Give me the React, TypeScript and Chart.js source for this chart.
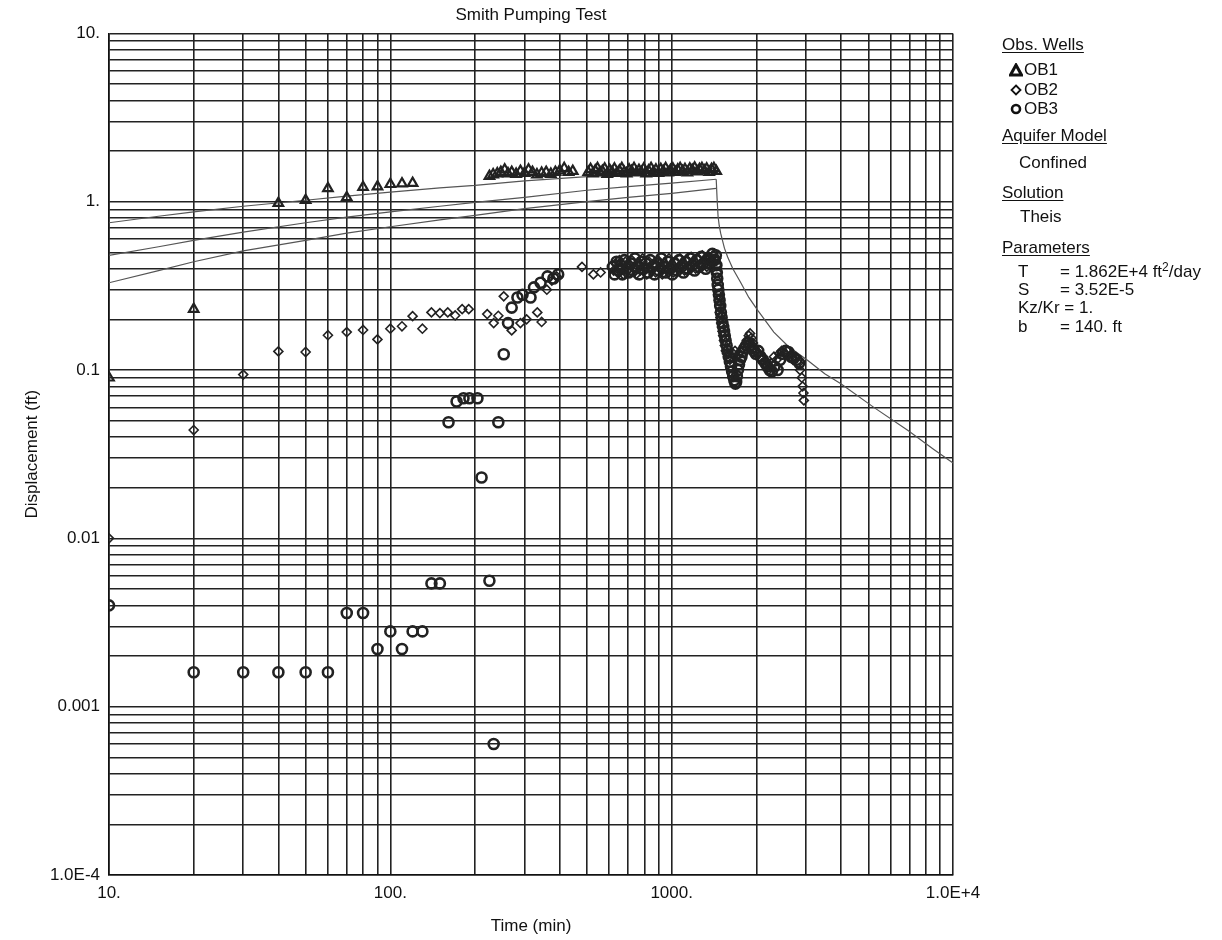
import React, { useEffect, useRef } from "react";
import { Chart, registerables } from "chart.js";

Chart.register(...registerables);

// ---------- text ----------
const CHART_TITLE = "Smith Pumping Test";
const X_TITLE = "Time (min)";
const Y_TITLE = "Displacement (ft)";

// ---------- axes ----------
const xDecades = [10, 100, 1000, 10000];
const xDecadeLabels = ["10.", "100.", "1000.", "1.0E+4"];
const yDecades = [0.0001, 0.001, 0.01, 0.1, 1, 10];
const yDecadeLabels = ["1.0E-4", "0.001", "0.01", "0.1", "1.", "10."];
const gridMultipliers = [1, 2, 3, 4, 5, 6, 7, 8, 9];

// ---------- observation wells: [time (min), displacement (ft)] ----------
const ob1: [number, number][] = [
  [10, 0.09], [20, 0.23], [40, 0.98], [50, 1.02], [60, 1.2], [70, 1.06], [80, 1.22], [90, 1.23],
  [100, 1.27], [110, 1.28], [120, 1.29],
  [225, 1.42], [232, 1.45], [240, 1.47], [247, 1.5], [255, 1.55], [262, 1.47], [270, 1.5], [280, 1.46],
  [290, 1.52], [300, 1.48], [310, 1.55], [320, 1.5], [332, 1.45], [345, 1.48], [358, 1.5], [372, 1.46],
  [386, 1.5], [400, 1.53], [415, 1.58], [430, 1.5], [445, 1.52],
  [505, 1.5], [515, 1.56], [525, 1.47], [535, 1.53], [545, 1.58], [556, 1.49], [567, 1.52], [578, 1.57],
  [590, 1.46], [602, 1.54], [614, 1.5], [626, 1.57], [639, 1.48], [652, 1.53], [665, 1.58], [678, 1.5],
  [692, 1.47], [706, 1.55], [720, 1.52], [735, 1.58], [750, 1.49], [765, 1.54], [780, 1.5], [796, 1.57],
  [812, 1.47], [828, 1.53], [845, 1.58], [862, 1.5], [879, 1.55], [897, 1.48], [915, 1.56], [933, 1.52],
  [952, 1.58], [971, 1.49], [990, 1.54], [1010, 1.57], [1030, 1.5], [1051, 1.55], [1072, 1.58],
  [1093, 1.52], [1115, 1.56], [1137, 1.49], [1160, 1.57], [1183, 1.54], [1207, 1.59], [1231, 1.51],
  [1256, 1.56], [1281, 1.58], [1306, 1.53], [1332, 1.57], [1359, 1.5], [1386, 1.56], [1413, 1.58],
  [1440, 1.52],
];

const ob2: [number, number][] = [
  [10, 0.01], [20, 0.044], [30, 0.094], [40, 0.129], [50, 0.128], [60, 0.161], [70, 0.168], [80, 0.173],
  [90, 0.152], [100, 0.176], [110, 0.182], [120, 0.209], [130, 0.176], [140, 0.22], [150, 0.218],
  [160, 0.22], [170, 0.211], [180, 0.23], [190, 0.23],
  [221, 0.215], [233, 0.19], [242, 0.21], [253, 0.274], [270, 0.172], [290, 0.19], [305, 0.2],
  [333, 0.22], [345, 0.193], [360, 0.3], [375, 0.34], [390, 0.36],
  [480, 0.41], [527, 0.37], [559, 0.38],
  [622, 0.39], [632, 0.43], [642, 0.38], [652, 0.45], [663, 0.4], [674, 0.37], [685, 0.44], [697, 0.41],
  [709, 0.38], [721, 0.45], [734, 0.4], [747, 0.37], [760, 0.43], [774, 0.39], [788, 0.46], [802, 0.4],
  [816, 0.37], [831, 0.44], [846, 0.39], [861, 0.42], [877, 0.38], [893, 0.45], [909, 0.4], [926, 0.37],
  [943, 0.43], [960, 0.39], [978, 0.46], [996, 0.41], [1014, 0.38], [1033, 0.44], [1052, 0.4],
  [1071, 0.46], [1091, 0.42], [1111, 0.39], [1131, 0.45], [1152, 0.41], [1173, 0.47], [1195, 0.43],
  [1217, 0.4], [1239, 0.46], [1262, 0.42], [1285, 0.48], [1309, 0.44], [1333, 0.41], [1357, 0.47],
  [1382, 0.44], [1407, 0.48], [1430, 0.45], [1440, 0.46],
  [1445, 0.42], [1450, 0.38], [1455, 0.34], [1460, 0.31], [1466, 0.28], [1472, 0.26], [1478, 0.24],
  [1485, 0.22], [1492, 0.205], [1500, 0.19], [1508, 0.18], [1516, 0.17], [1525, 0.16], [1535, 0.15],
  [1545, 0.14], [1558, 0.13], [1572, 0.125], [1590, 0.12], [1610, 0.115], [1630, 0.12], [1655, 0.125],
  [1680, 0.13], [1705, 0.12], [1730, 0.125], [1760, 0.13], [1790, 0.135], [1820, 0.14], [1850, 0.15],
  [1880, 0.16], [1900, 0.165], [1920, 0.155], [1945, 0.145], [1970, 0.135], [2000, 0.13], [2030, 0.125],
  [2060, 0.12], [2090, 0.115], [2130, 0.11], [2170, 0.105], [2210, 0.1], [2260, 0.11], [2310, 0.12],
  [2360, 0.115], [2410, 0.125], [2460, 0.13], [2520, 0.125], [2580, 0.13], [2640, 0.12], [2700, 0.115],
  [2760, 0.12], [2820, 0.11], [2860, 0.1], [2900, 0.09], [2920, 0.08], [2940, 0.073], [2950, 0.066],
];

const ob3: [number, number][] = [
  [10, 0.004], [20, 0.0016], [30, 0.0016], [40, 0.0016], [50, 0.0016], [60, 0.0016], [70, 0.0036],
  [80, 0.0036], [90, 0.0022], [100, 0.0028], [110, 0.0022], [120, 0.0028], [130, 0.0028], [140, 0.0054],
  [150, 0.0054], [161, 0.049], [172, 0.065], [182, 0.068], [191, 0.068], [204, 0.068], [211, 0.023],
  [225, 0.0056], [233, 0.0006], [242, 0.049], [253, 0.124], [262, 0.19], [270, 0.235], [283, 0.27],
  [295, 0.28], [315, 0.27], [324, 0.31], [342, 0.33], [362, 0.36], [380, 0.35], [395, 0.37],
  [618, 0.41], [627, 0.37], [637, 0.44], [647, 0.39], [657, 0.42], [668, 0.37], [679, 0.45], [691, 0.4],
  [703, 0.38], [715, 0.43], [727, 0.39], [740, 0.46], [753, 0.41], [767, 0.37], [781, 0.44], [795, 0.4],
  [809, 0.43], [824, 0.38], [839, 0.45], [854, 0.41], [869, 0.37], [885, 0.43], [901, 0.39], [918, 0.46],
  [935, 0.41], [952, 0.38], [969, 0.44], [987, 0.4], [1005, 0.37], [1024, 0.43], [1043, 0.39],
  [1062, 0.45], [1081, 0.41], [1101, 0.38], [1121, 0.44], [1142, 0.4], [1163, 0.46], [1184, 0.42],
  [1206, 0.39], [1228, 0.45], [1251, 0.41], [1274, 0.47], [1297, 0.43], [1321, 0.4], [1345, 0.46],
  [1370, 0.43], [1395, 0.49], [1420, 0.45], [1436, 0.48],
  [1442, 0.42], [1447, 0.38], [1452, 0.35], [1458, 0.32], [1465, 0.3], [1472, 0.28], [1480, 0.26],
  [1488, 0.24], [1496, 0.22], [1505, 0.205], [1515, 0.19], [1525, 0.18], [1535, 0.17], [1545, 0.16],
  [1555, 0.15], [1568, 0.14], [1580, 0.13], [1595, 0.12], [1610, 0.112], [1625, 0.105], [1640, 0.098],
  [1655, 0.092], [1670, 0.087], [1685, 0.083], [1695, 0.085], [1705, 0.092], [1720, 0.1], [1735, 0.108],
  [1750, 0.115], [1770, 0.12], [1790, 0.128], [1815, 0.135], [1840, 0.14], [1870, 0.145], [1900, 0.14],
  [1930, 0.135], [1960, 0.13], [1990, 0.125], [2030, 0.13], [2070, 0.12], [2110, 0.115], [2150, 0.11],
  [2190, 0.105], [2230, 0.1], [2270, 0.098], [2320, 0.105], [2380, 0.1], [2430, 0.115], [2480, 0.125],
  [2540, 0.13], [2600, 0.128], [2660, 0.12], [2720, 0.118], [2780, 0.115], [2840, 0.11],
];

// ---------- Theis type curves ----------
const theisOB1: [number, number][] = [
  [10, 0.75], [15, 0.82], [20, 0.87], [30, 0.94], [50, 1.02], [70, 1.08], [100, 1.14], [150, 1.21],
  [200, 1.25], [300, 1.33], [500, 1.41], [700, 1.47], [1000, 1.52], [1440, 1.58],
];
const theisOB2: [number, number][] = [
  [10, 0.48], [15, 0.54], [20, 0.59], [30, 0.66], [50, 0.75], [70, 0.81], [100, 0.87], [150, 0.94],
  [200, 0.99], [300, 1.06], [500, 1.17], [700, 1.23], [1000, 1.29], [1440, 1.36],
];
const theisOB3: [number, number][] = [
  [10, 0.33], [15, 0.39], [20, 0.44], [30, 0.51], [50, 0.59], [70, 0.65], [100, 0.71], [150, 0.78],
  [200, 0.83], [300, 0.91], [500, 1.0], [700, 1.06], [1000, 1.12], [1440, 1.2],
];
const theisRecovery: [number, number][] = [
  [1440, 1.36], [1450, 1.05], [1462, 0.82], [1476, 0.72], [1493, 0.65], [1540, 0.53], [1581, 0.47],
  [1650, 0.4], [1761, 0.33], [1880, 0.27], [2023, 0.226], [2307, 0.168], [2600, 0.138], [3048, 0.114],
  [3500, 0.095], [3994, 0.083], [5231, 0.06], [6921, 0.0437], [8500, 0.034], [10000, 0.028],
];

// ---------- legend panel text ----------
const legendWells = ["OB1", "OB2", "OB3"];
const aquiferModel = "Confined";
const solutionName = "Theis";

// ---------- styles ----------
const FONT = "Arial, 'Liberation Sans', Helvetica, sans-serif";
const TEXT = "#111";
const GRID = "#222";
const MARK = "#222";
const CURVE = "#555";
const W = 1222;
const H = 940;

function decadeGrid(decades: number[]): number[] {
  const out: number[] = [];
  for (let i = 0; i < decades.length - 1; i++) {
    for (const m of gridMultipliers) out.push(parseFloat((m * decades[i]).toPrecision(4)));
  }
  out.push(decades[decades.length - 1]);
  return out;
}

function labelFor(v: number, decades: number[], labels: string[]): string {
  for (let i = 0; i < decades.length; i++) {
    if (Math.abs(Math.log10(v) - Math.log10(decades[i])) < 1e-6) return labels[i];
  }
  return "";
}

const toXY = (pts: [number, number][]) => pts.map(([x, y]) => ({ x, y }));

function Line(props: { x: number; cy: number; underline?: boolean; children: React.ReactNode }) {
  return (
    <div
      style={{
        position: "absolute",
        left: props.x,
        top: props.cy - 10,
        height: 20,
        lineHeight: "20px",
        fontFamily: FONT,
        fontSize: 17,
        color: TEXT,
        whiteSpace: "nowrap",
        textDecoration: props.underline ? "underline" : "none",
        textUnderlineOffset: "2px",
      }}
    >
      {props.children}
    </div>
  );
}

function Icon(props: { kind: number; cy: number }) {
  const common = { stroke: "#111", fill: "#fff" };
  return (
    <svg
      width={14}
      height={14}
      style={{ position: "absolute", left: 1009, top: props.cy - 7 }}
      viewBox="0 0 14 14"
    >
      {props.kind === 0 && <polygon points="7,2 12.5,12 1.5,12" strokeWidth={3} {...common} />}
      {props.kind === 1 && <polygon points="7,2.5 11.5,7 7,11.5 2.5,7" strokeWidth={1.8} {...common} />}
      {props.kind === 2 && <circle cx={7} cy={7} r={4} strokeWidth={2.6} {...common} />}
    </svg>
  );
}

export default function App() {
  const ref = useRef<HTMLCanvasElement | null>(null);

  useEffect(() => {
    if (!ref.current) return;
    const xGrid = decadeGrid(xDecades);
    const yGrid = decadeGrid(yDecades);
    const tickFont = { family: FONT, size: 17, weight: "normal" as const };

    const curve = (data: [number, number][]) => ({
      data: toXY(data),
      showLine: true,
      borderColor: CURVE,
      borderWidth: 1.2,
      pointRadius: 0,
      pointHoverRadius: 0,
      tension: 0,
      order: 2,
    });

    const chart = new Chart(ref.current, {
      type: "scatter",
      data: {
        datasets: [
          { label: "Theis OB1", ...curve(theisOB1) },
          { label: "Theis OB2", ...curve(theisOB2) },
          { label: "Theis OB3", ...curve(theisOB3) },
          { label: "Theis recovery", ...curve(theisRecovery) },
          {
            label: "OB1",
            data: toXY(ob1),
            pointStyle: "triangle",
            pointRadius: 5.5,
            pointBorderWidth: 2.2,
            pointBorderColor: MARK,
            pointBackgroundColor: "rgba(255,255,255,0)",
            order: 1,
          },
          {
            label: "OB2",
            data: toXY(ob2),
            pointStyle: "rectRot",
            pointRadius: 4.5,
            pointBorderWidth: 1.6,
            pointBorderColor: MARK,
            pointBackgroundColor: "rgba(255,255,255,0)",
            order: 1,
          },
          {
            label: "OB3",
            data: toXY(ob3),
            pointStyle: "circle",
            pointRadius: 5,
            pointBorderWidth: 2.6,
            pointBorderColor: MARK,
            pointBackgroundColor: "rgba(255,255,255,0)",
            order: 1,
          },
        ] as any,
      },
      options: {
        responsive: false,
        animation: false,
        events: [],
        layout: { padding: { left: 0, right: W - 953, top: 0, bottom: 0 } },
        plugins: {
          legend: { display: false },
          tooltip: { enabled: false },
          title: {
            display: true,
            text: CHART_TITLE,
            fullSize: false,
            color: TEXT,
            font: { family: FONT, size: 17, weight: "normal" },
            padding: { top: 5, bottom: 8 },
          },
        },
        scales: {
          x: {
            type: "logarithmic",
            position: "bottom",
            min: 10,
            max: 10000,
            afterBuildTicks: (s: any) => {
              s.ticks = xGrid.map((v) => ({ value: v }));
            },
            afterFit: (s: any) => {
              s.height = 65;
            },
            ticks: {
              autoSkip: false,
              maxRotation: 0,
              minRotation: 0,
              padding: 8,
              color: TEXT,
              font: tickFont,
              callback: (v: any) => labelFor(Number(v), xDecades, xDecadeLabels),
            },
            grid: { color: GRID, lineWidth: 1.6, drawTicks: false },
            border: { display: true, color: "#111", width: 1.6 },
            title: {
              display: true,
              text: X_TITLE,
              color: TEXT,
              font: tickFont,
              padding: { top: 0, bottom: 3 },
            },
          },
          y: {
            type: "logarithmic",
            position: "left",
            min: 0.0001,
            max: 10,
            afterBuildTicks: (s: any) => {
              s.ticks = yGrid.map((v) => ({ value: v }));
            },
            afterFit: (s: any) => {
              s.width = 109;
            },
            ticks: {
              autoSkip: false,
              padding: 9,
              color: TEXT,
              font: tickFont,
              callback: (v: any) => labelFor(Number(v), yDecades, yDecadeLabels),
            },
            grid: { color: GRID, lineWidth: 1.6, drawTicks: false },
            border: { display: true, color: "#111", width: 1.6 },
            title: {
              display: true,
              text: Y_TITLE,
              color: TEXT,
              font: tickFont,
              padding: { top: 22, bottom: 0 },
            },
          },
        },
      } as any,
    });
    return () => chart.destroy();
  }, []);

  return (
    <div style={{ position: "fixed", left: 0, top: 0, width: W, height: H, background: "#fff" }}>
      <canvas ref={ref} width={W} height={H} style={{ position: "absolute", left: 0, top: 0, width: W, height: H }} />
      <Line x={1002} cy={45} underline>Obs. Wells</Line>
      {legendWells.map((name, i) => (
        <React.Fragment key={name}>
          <Icon kind={i} cy={70 + i * 19.5} />
          <Line x={1024} cy={70 + i * 19.5}>{name}</Line>
        </React.Fragment>
      ))}
      <Line x={1002} cy={136} underline>Aquifer Model</Line>
      <Line x={1019} cy={163}>{aquiferModel}</Line>
      <Line x={1002} cy={193} underline>Solution</Line>
      <Line x={1020} cy={217}>{solutionName}</Line>
      <Line x={1002} cy={248} underline>Parameters</Line>
      <Line x={1018} cy={272}>T</Line>
      <Line x={1060} cy={272}>
        = 1.862E+4 ft<sup style={{ fontSize: 12, verticalAlign: "6px", lineHeight: 0 }}>2</sup>/day
      </Line>
      <Line x={1018} cy={290}>S</Line>
      <Line x={1060} cy={290}>= 3.52E-5</Line>
      <Line x={1018} cy={308}>Kz/Kr = 1.</Line>
      <Line x={1018} cy={327}>b</Line>
      <Line x={1060} cy={327}>= 140. ft</Line>
    </div>
  );
}
